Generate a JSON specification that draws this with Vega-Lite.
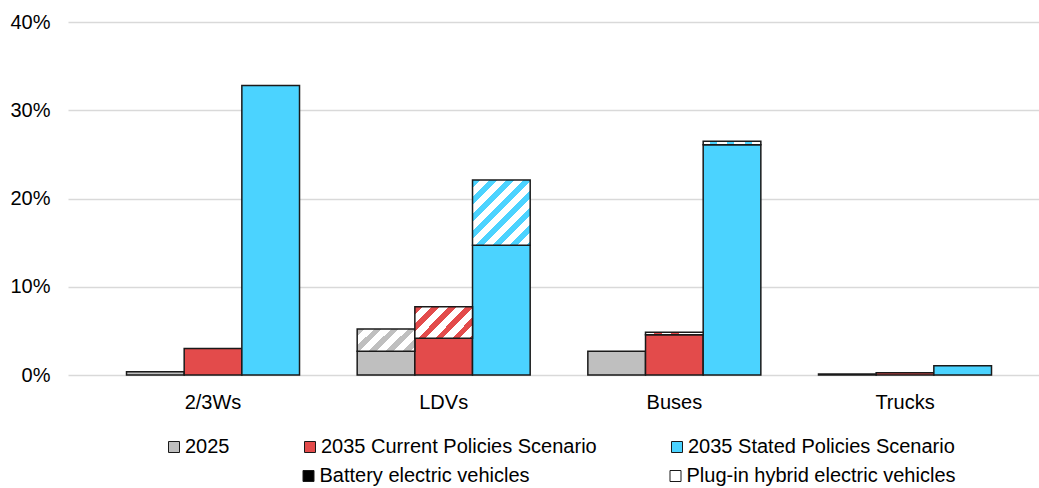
{
  "$schema": "https://vega.github.io/schema/vega-lite/v6.json",
  "autosize": {"type": "none"},
  "width": 971,
  "height": 353,
  "padding": {"left": 68, "top": 22, "right": 0, "bottom": 113},
  "config": {
    "view": {"stroke": null},
    "font": "Liberation Sans",
    "axis": {"labelFont": "Liberation Sans", "labelFontSize": 20, "labelColor": "#000000"},
    "legend": {"labelFont": "Liberation Sans", "labelFontSize": 20, "labelColor": "#000000", "labelLimit": 500}
  },
  "datasets": {
    "bars": [
      {"cat": "2/3Ws", "scen": "2025", "bev": 0.0037, "total": 0.0037},
      {"cat": "2/3Ws", "scen": "2035 Current Policies Scenario", "bev": 0.030, "total": 0.030},
      {"cat": "2/3Ws", "scen": "2035 Stated Policies Scenario", "bev": 0.328, "total": 0.328},
      {"cat": "LDVs", "scen": "2025", "bev": 0.027, "total": 0.052},
      {"cat": "LDVs", "scen": "2035 Current Policies Scenario", "bev": 0.0416, "total": 0.0774},
      {"cat": "LDVs", "scen": "2035 Stated Policies Scenario", "bev": 0.147, "total": 0.221},
      {"cat": "Buses", "scen": "2025", "bev": 0.027, "total": 0.027},
      {"cat": "Buses", "scen": "2035 Current Policies Scenario", "bev": 0.0457, "total": 0.0484},
      {"cat": "Buses", "scen": "2035 Stated Policies Scenario", "bev": 0.261, "total": 0.265},
      {"cat": "Trucks", "scen": "2025", "bev": 0.001, "total": 0.001},
      {"cat": "Trucks", "scen": "2035 Current Policies Scenario", "bev": 0.0025, "total": 0.0025},
      {"cat": "Trucks", "scen": "2035 Stated Policies Scenario", "bev": 0.0105, "total": 0.0105}
    ],
    "types": []
  },
  "layer": [
    {
      "data": {"name": "bars"},
      "mark": {"type": "bar", "stroke": "#1a1a1a", "strokeWidth": 1.5},
      "encoding": {
        "x": {"field": "cat", "type": "nominal", "sort": ["2/3Ws", "LDVs", "Buses", "Trucks"],
              "scale": {"paddingInner": 0.25, "paddingOuter": 0.2298, "align": 0.552},
              "axis": {"title": null, "domain": false, "ticks": false, "tickSize": 0, "labelPadding": 17, "labelAngle": 0, "grid": false}},
        "xOffset": {"field": "scen", "type": "nominal", "sort": ["2025", "2035 Current Policies Scenario", "2035 Stated Policies Scenario"], "scale": {"paddingInner": 0, "paddingOuter": 0}},
        "y": {"field": "bev", "type": "quantitative", "stack": null,
              "scale": {"domain": [0, 0.4], "nice": false},
              "axis": {"title": null, "values": [0, 0.1, 0.2, 0.3, 0.4], "format": ".0%", "grid": true, "gridColor": "#d9d9d9", "gridWidth": 1.5, "domain": false, "ticks": false, "tickSize": 0, "labelPadding": 18}},
        "color": {"field": "scen", "type": "nominal",
                  "scale": {"domain": ["2025", "2035 Current Policies Scenario", "2035 Stated Policies Scenario"], "range": ["#bfbfbf", "#e34b4b", "#4bd3ff"]},
                  "legend": {"title": null, "orient": "none", "legendX": 96, "legendY": 415, "direction": "horizontal", "columns": 3, "columnPadding": 70, "padding": 0, "symbolType": "square", "symbolSize": 121, "symbolStrokeColor": "#1a1a1a", "symbolStrokeWidth": 1, "labelOffset": 1}}
      }
    },
    {
      "data": {"name": "bars"},
      "transform": [{"filter": "datum.cat === 'LDVs' && datum.scen === '2025'"}],
      "mark": {"type": "bar", "stroke": "#1a1a1a", "strokeWidth": 1.5,
               "fill": {"gradient": "linear", "x1": 0, "y1": 0, "x2": 1.207, "y2": 0.479, "stops": [
                 {"offset": 0, "color": "#bfbfbf"}, {"offset": 0.0949, "color": "#bfbfbf"}, {"offset": 0.0949, "color": "#ffffff"}, {"offset": 0.2109, "color": "#ffffff"},
                 {"offset": 0.2109, "color": "#bfbfbf"}, {"offset": 0.3058, "color": "#bfbfbf"}, {"offset": 0.3058, "color": "#ffffff"}, {"offset": 0.4218, "color": "#ffffff"},
                 {"offset": 0.4218, "color": "#bfbfbf"}, {"offset": 0.5167, "color": "#bfbfbf"}, {"offset": 0.5167, "color": "#ffffff"}, {"offset": 0.6327, "color": "#ffffff"},
                 {"offset": 0.6327, "color": "#bfbfbf"}, {"offset": 0.7276, "color": "#bfbfbf"}, {"offset": 0.7276, "color": "#ffffff"}, {"offset": 0.8436, "color": "#ffffff"},
                 {"offset": 0.8436, "color": "#bfbfbf"}, {"offset": 0.9385, "color": "#bfbfbf"}, {"offset": 0.9385, "color": "#ffffff"}, {"offset": 1, "color": "#ffffff"}]}},
      "encoding": {
        "x": {"field": "cat", "type": "nominal", "sort": ["2/3Ws", "LDVs", "Buses", "Trucks"], "scale": {"paddingInner": 0.25, "paddingOuter": 0.2298, "align": 0.552}},
        "xOffset": {"field": "scen", "type": "nominal", "sort": ["2025", "2035 Current Policies Scenario", "2035 Stated Policies Scenario"], "scale": {"paddingInner": 0, "paddingOuter": 0}},
        "y": {"field": "total", "type": "quantitative"},
        "y2": {"field": "bev"}
      }
    },
    {
      "data": {"name": "bars"},
      "transform": [{"filter": "datum.cat === 'LDVs' && datum.scen === '2035 Current Policies Scenario'"}],
      "mark": {"type": "bar", "stroke": "#1a1a1a", "strokeWidth": 1.5,
               "fill": {"gradient": "linear", "x1": 0, "y1": 0, "x2": 1.194, "y2": 0.64, "stops": [
                 {"offset": 0, "color": "#e34b4b"}, {"offset": 0.0863, "color": "#e34b4b"}, {"offset": 0.0863, "color": "#ffffff"}, {"offset": 0.1919, "color": "#ffffff"},
                 {"offset": 0.1919, "color": "#e34b4b"}, {"offset": 0.2782, "color": "#e34b4b"}, {"offset": 0.2782, "color": "#ffffff"}, {"offset": 0.3838, "color": "#ffffff"},
                 {"offset": 0.3838, "color": "#e34b4b"}, {"offset": 0.4701, "color": "#e34b4b"}, {"offset": 0.4701, "color": "#ffffff"}, {"offset": 0.5757, "color": "#ffffff"},
                 {"offset": 0.5757, "color": "#e34b4b"}, {"offset": 0.662, "color": "#e34b4b"}, {"offset": 0.662, "color": "#ffffff"}, {"offset": 0.7676, "color": "#ffffff"},
                 {"offset": 0.7676, "color": "#e34b4b"}, {"offset": 0.8539, "color": "#e34b4b"}, {"offset": 0.8539, "color": "#ffffff"}, {"offset": 0.9595, "color": "#ffffff"},
                 {"offset": 0.9595, "color": "#e34b4b"}, {"offset": 1, "color": "#e34b4b"}]}},
      "encoding": {
        "x": {"field": "cat", "type": "nominal", "sort": ["2/3Ws", "LDVs", "Buses", "Trucks"], "scale": {"paddingInner": 0.25, "paddingOuter": 0.2298, "align": 0.552}},
        "xOffset": {"field": "scen", "type": "nominal", "sort": ["2025", "2035 Current Policies Scenario", "2035 Stated Policies Scenario"], "scale": {"paddingInner": 0, "paddingOuter": 0}},
        "y": {"field": "total", "type": "quantitative"},
        "y2": {"field": "bev"}
      }
    },
    {
      "data": {"name": "bars"},
      "transform": [{"filter": "datum.cat === 'LDVs' && datum.scen === '2035 Stated Policies Scenario'"}],
      "mark": {"type": "bar", "stroke": "#1a1a1a", "strokeWidth": 1.5,
               "fill": {"gradient": "linear", "x1": 0, "y1": 0, "x2": 0.935, "y2": 1.058, "stops": [
                 {"offset": 0, "color": "#4bd3ff"}, {"offset": 0.0622, "color": "#4bd3ff"}, {"offset": 0.0622, "color": "#ffffff"}, {"offset": 0.1382, "color": "#ffffff"},
                 {"offset": 0.1382, "color": "#4bd3ff"}, {"offset": 0.2004, "color": "#4bd3ff"}, {"offset": 0.2004, "color": "#ffffff"}, {"offset": 0.2764, "color": "#ffffff"},
                 {"offset": 0.2764, "color": "#4bd3ff"}, {"offset": 0.3386, "color": "#4bd3ff"}, {"offset": 0.3386, "color": "#ffffff"}, {"offset": 0.4146, "color": "#ffffff"},
                 {"offset": 0.4146, "color": "#4bd3ff"}, {"offset": 0.4768, "color": "#4bd3ff"}, {"offset": 0.4768, "color": "#ffffff"}, {"offset": 0.5528, "color": "#ffffff"},
                 {"offset": 0.5528, "color": "#4bd3ff"}, {"offset": 0.615, "color": "#4bd3ff"}, {"offset": 0.615, "color": "#ffffff"}, {"offset": 0.691, "color": "#ffffff"},
                 {"offset": 0.691, "color": "#4bd3ff"}, {"offset": 0.7532, "color": "#4bd3ff"}, {"offset": 0.7532, "color": "#ffffff"}, {"offset": 0.8292, "color": "#ffffff"},
                 {"offset": 0.8292, "color": "#4bd3ff"}, {"offset": 0.8914, "color": "#4bd3ff"}, {"offset": 0.8914, "color": "#ffffff"}, {"offset": 0.9674, "color": "#ffffff"},
                 {"offset": 0.9674, "color": "#4bd3ff"}, {"offset": 1, "color": "#4bd3ff"}]}},
      "encoding": {
        "x": {"field": "cat", "type": "nominal", "sort": ["2/3Ws", "LDVs", "Buses", "Trucks"], "scale": {"paddingInner": 0.25, "paddingOuter": 0.2298, "align": 0.552}},
        "xOffset": {"field": "scen", "type": "nominal", "sort": ["2025", "2035 Current Policies Scenario", "2035 Stated Policies Scenario"], "scale": {"paddingInner": 0, "paddingOuter": 0}},
        "y": {"field": "total", "type": "quantitative"},
        "y2": {"field": "bev"}
      }
    },
    {
      "data": {"name": "bars"},
      "transform": [{"filter": "datum.cat === 'Buses' && datum.scen === '2035 Current Policies Scenario'"}],
      "mark": {"type": "bar", "stroke": "#1a1a1a", "strokeWidth": 1.5,
               "fill": {"gradient": "linear", "x1": 0, "y1": 0, "x2": 1, "y2": 0, "stops": [
                 {"offset": 0, "color": "#ffffff"}, {"offset": 0.15, "color": "#ffffff"}, {"offset": 0.15, "color": "#e34b4b"}, {"offset": 0.28, "color": "#e34b4b"},
                 {"offset": 0.28, "color": "#ffffff"}, {"offset": 0.45, "color": "#ffffff"}, {"offset": 0.45, "color": "#e34b4b"}, {"offset": 0.58, "color": "#e34b4b"},
                 {"offset": 0.58, "color": "#ffffff"}, {"offset": 1, "color": "#ffffff"}]}},
      "encoding": {
        "x": {"field": "cat", "type": "nominal", "sort": ["2/3Ws", "LDVs", "Buses", "Trucks"], "scale": {"paddingInner": 0.25, "paddingOuter": 0.2298, "align": 0.552}},
        "xOffset": {"field": "scen", "type": "nominal", "sort": ["2025", "2035 Current Policies Scenario", "2035 Stated Policies Scenario"], "scale": {"paddingInner": 0, "paddingOuter": 0}},
        "y": {"field": "total", "type": "quantitative"},
        "y2": {"field": "bev"}
      }
    },
    {
      "data": {"name": "bars"},
      "transform": [{"filter": "datum.cat === 'Buses' && datum.scen === '2035 Stated Policies Scenario'"}],
      "mark": {"type": "bar", "stroke": "#1a1a1a", "strokeWidth": 1.5,
               "fill": {"gradient": "linear", "x1": 0, "y1": 0, "x2": 1, "y2": 0, "stops": [
                 {"offset": 0, "color": "#ffffff"}, {"offset": 0.12, "color": "#ffffff"}, {"offset": 0.12, "color": "#4bd3ff"}, {"offset": 0.24, "color": "#4bd3ff"},
                 {"offset": 0.24, "color": "#ffffff"}, {"offset": 0.42, "color": "#ffffff"}, {"offset": 0.42, "color": "#4bd3ff"}, {"offset": 0.54, "color": "#4bd3ff"},
                 {"offset": 0.54, "color": "#ffffff"}, {"offset": 0.72, "color": "#ffffff"}, {"offset": 0.72, "color": "#4bd3ff"}, {"offset": 0.84, "color": "#4bd3ff"},
                 {"offset": 0.84, "color": "#ffffff"}, {"offset": 1, "color": "#ffffff"}]}},
      "encoding": {
        "x": {"field": "cat", "type": "nominal", "sort": ["2/3Ws", "LDVs", "Buses", "Trucks"], "scale": {"paddingInner": 0.25, "paddingOuter": 0.2298, "align": 0.552}},
        "xOffset": {"field": "scen", "type": "nominal", "sort": ["2025", "2035 Current Policies Scenario", "2035 Stated Policies Scenario"], "scale": {"paddingInner": 0, "paddingOuter": 0}},
        "y": {"field": "total", "type": "quantitative"},
        "y2": {"field": "bev"}
      }
    },
    {
      "data": {"name": "types"},
      "mark": {"type": "square"},
      "encoding": {
        "fill": {"field": "type", "type": "nominal",
                 "scale": {"domain": ["Battery electric vehicles", "Plug-in hybrid electric vehicles"], "range": ["#000000", "#ffffff"]},
                 "legend": {"title": null, "orient": "none", "legendX": 230.5, "legendY": 444, "direction": "horizontal", "columns": 2, "columnPadding": 135, "padding": 0, "symbolType": "square", "symbolSize": 121, "symbolStrokeColor": "#1a1a1a", "symbolStrokeWidth": 1, "symbolOpacity": 1, "labelOffset": 1}}
      }
    },
    {
      "mark": {"type": "rule", "color": "#000000", "strokeWidth": 2},
      "encoding": {"y": {"datum": 0, "type": "quantitative"}}
    }
  ]
}
